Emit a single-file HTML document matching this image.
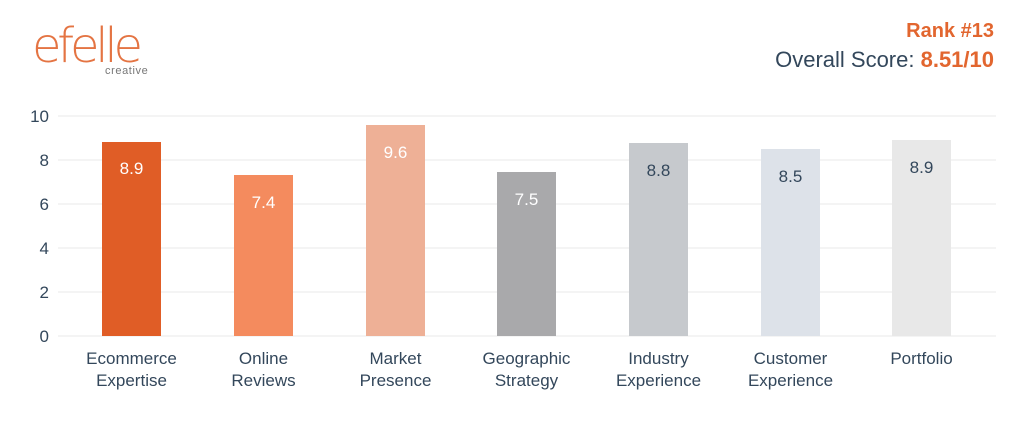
<!DOCTYPE html>
<html><head><meta charset="utf-8"><style>
body{margin:0;background:#fff;width:1024px;height:438px;overflow:hidden;font-family:"Liberation Sans",sans-serif}
</style></head><body>
<svg width="1024" height="438" viewBox="0 0 1024 438" xmlns="http://www.w3.org/2000/svg" font-family="Liberation Sans, sans-serif">
<text x="32" y="62" font-size="48" fill="#e2662f" stroke="none" textLength="111" lengthAdjust="spacing" font-family="DejaVu Sans, sans-serif" style="font-weight:200" opacity="0.9">efelle</text>
<text x="105" y="74" font-size="11" fill="#777" letter-spacing="0.6">creative</text>
<text x="994" y="37" font-size="20" font-weight="bold" fill="#e2662f" text-anchor="end">Rank #13</text>
<text x="994" y="67" font-size="22" fill="#33475b" text-anchor="end">Overall Score: <tspan fill="#e2662f" font-weight="bold">8.51/10</tspan></text>
<g stroke="#f1f1f1" stroke-width="1.5">
<line x1="58" x2="996" y1="116" y2="116"/><line x1="58" x2="996" y1="160" y2="160"/><line x1="58" x2="996" y1="204" y2="204"/><line x1="58" x2="996" y1="248" y2="248"/><line x1="58" x2="996" y1="292" y2="292"/><line x1="58" x2="996" y1="336" y2="336"/>
</g>
<g font-size="17" fill="#33475b" text-anchor="end">
<text x="49" y="122">10</text><text x="49" y="166">8</text><text x="49" y="210">6</text><text x="49" y="254">4</text><text x="49" y="298">2</text><text x="49" y="342">0</text>
</g>
<rect x="102" y="142" width="59" height="194" fill="#e05d26"/>
<rect x="234" y="175" width="59" height="161" fill="#f48b5e"/>
<rect x="366" y="125" width="59" height="211" fill="#eeb096"/>
<rect x="497" y="172" width="59" height="164" fill="#a9a9ab"/>
<rect x="629" y="143" width="59" height="193" fill="#c6c9cd"/>
<rect x="761" y="149" width="59" height="187" fill="#dde2e9"/>
<rect x="892" y="140" width="59" height="196" fill="#e8e8e8"/>
<g font-size="17" text-anchor="middle">
<text x="131.5" y="174" fill="#fff">8.9</text>
<text x="263.5" y="208" fill="#fff">7.4</text>
<text x="395.5" y="158" fill="#fff">9.6</text>
<text x="526.5" y="205" fill="#fff">7.5</text>
<text x="658.5" y="176" fill="#33475b">8.8</text>
<text x="790.5" y="182" fill="#33475b">8.5</text>
<text x="921.5" y="173" fill="#33475b">8.9</text>
</g>
<g font-size="17" fill="#33475b" text-anchor="middle">
<text x="131.5" y="364">Ecommerce</text><text x="131.5" y="386">Expertise</text>
<text x="263.5" y="364">Online</text><text x="263.5" y="386">Reviews</text>
<text x="395.5" y="364">Market</text><text x="395.5" y="386">Presence</text>
<text x="526.5" y="364">Geographic</text><text x="526.5" y="386">Strategy</text>
<text x="658.5" y="364">Industry</text><text x="658.5" y="386">Experience</text>
<text x="790.5" y="364">Customer</text><text x="790.5" y="386">Experience</text>
<text x="921.5" y="364">Portfolio</text>
</g>
</svg>
</body></html>
